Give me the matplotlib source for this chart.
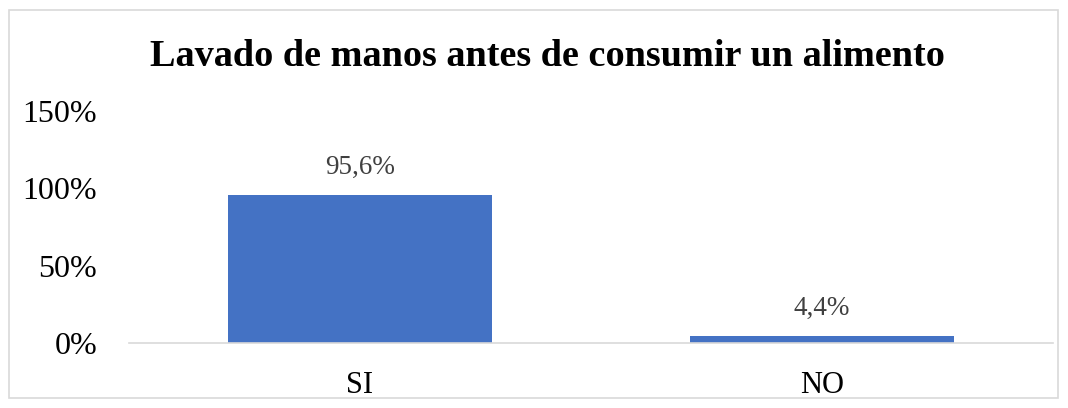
import matplotlib
matplotlib.use("Agg")
import matplotlib.pyplot as plt
from matplotlib.patches import Rectangle

categories = ["SI", "NO"]
values = [95.6, 4.4]
value_labels = ["95,6%", "4,4%"]
yticks = [0, 50, 100, 150]
ytick_labels = ["0%", "50%", "100%", "150%"]
title = "Lavado de manos antes de consumir un alimento"

plt.rcParams['font.family'] = ['Liberation Serif', 'DejaVu Serif']

fig = plt.figure(figsize=(10.68, 4.08), dpi=100)
fig.patches.append(Rectangle((9/1068, 1-398/408), 1049/1068, 388/408, transform=fig.transFigure,
                             fill=False, edgecolor='#d9d9d9', linewidth=1.2))

ax = fig.add_axes([129/1068, 1-343/408, (1053-129)/1068, (343-111)/408])
x = range(len(categories))
ax.bar(x, values, width=0.57, color='#4472c4')
ax.set_xlim(-0.5, 1.5)
ax.set_ylim(0, 150)
ax.set_yticks(yticks)
ax.set_yticklabels(ytick_labels, fontsize=23)
ax.set_xticks(list(x))
ax.set_xticklabels(categories, fontsize=22)
for s in ['top', 'right', 'left']:
    ax.spines[s].set_visible(False)
ax.spines['bottom'].set_color('#d9d9d9')
ax.spines['bottom'].set_linewidth(1.2)
ax.tick_params(axis='y', length=0, pad=23)
ax.tick_params(axis='x', length=0, pad=20)
for xi, v, lab in zip(x, values, value_labels):
    ax.annotate(lab, (xi, v), xytext=(0, 20), textcoords='offset points',
                ha='center', va='center', fontsize=19.5, color='#404040')

fig.text((148+946)/2/1068, 1-56/408, title, ha='center', va='center', fontsize=27.5, fontweight='bold')

fig.savefig("out.png", dpi=100)
